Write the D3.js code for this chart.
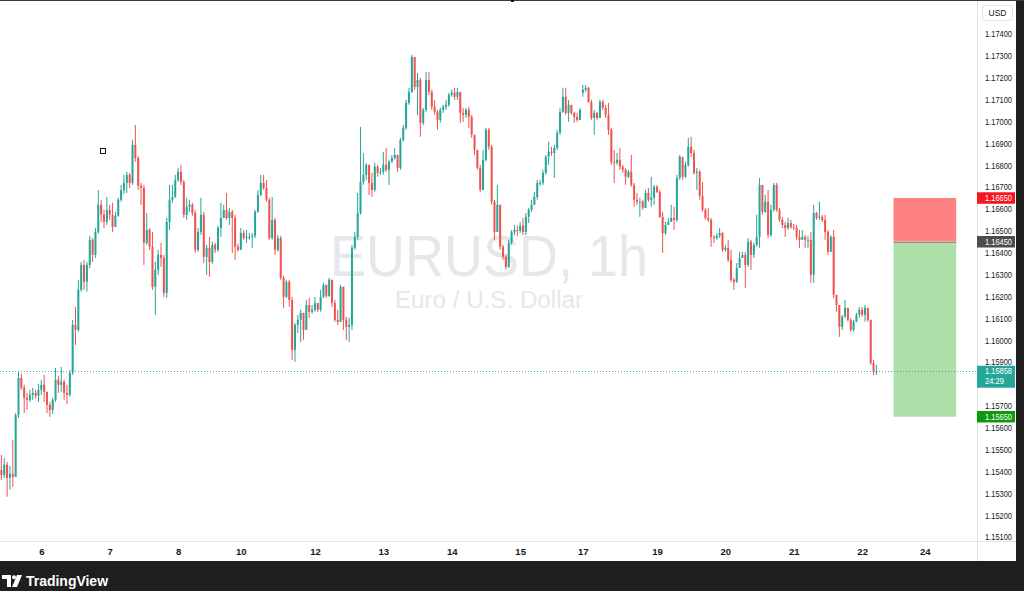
<!DOCTYPE html>
<html><head><meta charset="utf-8">
<script src="https://cdn.jsdelivr.net/npm/d3@7"></script>
<style>html,body{margin:0;padding:0;background:#fff;overflow:hidden}svg{display:block}</style>
</head><body><svg id="c" width="1024" height="591"></svg>
<script>
// ---------- DATA (EURUSD, 1h) ----------
const closes=[
1.15384,1.15430,1.15370,1.15389,1.15375,1.15658,1.15827,1.15782,1.15736,1.15727,
1.15750,1.15759,1.15746,1.15773,1.15796,1.15764,1.15704,1.15681,1.15727,1.15819,
1.15796,1.15810,1.15759,1.15750,1.15850,1.16070,1.16047,1.16230,1.16344,1.16267,
1.16344,1.16459,1.16390,1.16495,1.16619,1.16573,1.16541,1.16596,1.16573,1.16518,
1.16569,1.16642,1.16687,1.16719,1.16756,1.16719,1.16893,1.16833,1.16706,1.16696,
1.16445,1.16504,1.16427,1.16244,1.16322,1.16390,1.16376,1.16216,1.16541,1.16642,
1.16655,1.16733,1.16770,1.16724,1.16573,1.16610,1.16619,1.16582,1.16413,1.16495,
1.16573,1.16381,1.16422,1.16358,1.16436,1.16413,1.16513,1.16559,1.16596,1.16559,
1.16587,1.16559,1.16427,1.16413,1.16490,1.16467,1.16472,1.16472,1.16477,1.16587,
1.16664,1.16719,1.16696,1.16642,1.16467,1.16550,1.16413,1.16467,1.16285,1.16198,
1.16267,1.16184,1.15956,1.16070,1.16093,1.16125,1.16047,1.16161,1.16130,1.16139,
1.16170,1.16139,1.16198,1.16253,1.16203,1.16276,1.16170,1.16093,1.16084,1.16244,
1.16093,1.16061,1.16070,1.16422,1.16472,1.16582,1.16724,1.16756,1.16802,1.16719,
1.16687,1.16793,1.16765,1.16770,1.16802,1.16779,1.16816,1.16833,1.16847,1.16788,
1.16916,1.16971,1.17085,1.17135,1.17295,1.17158,1.17190,1.16994,1.17053,1.17190,
1.17135,1.17067,1.17044,1.17007,1.17053,1.17067,1.17076,1.17122,1.17131,1.17113,
1.17135,1.17039,1.17030,1.17053,1.17021,1.16939,1.16870,1.16788,1.16687,1.16825,
1.16962,1.16884,1.16633,1.16495,1.16619,1.16427,1.16381,1.16335,1.16445,1.16495,
1.16504,1.16500,1.16523,1.16495,1.16564,1.16596,1.16619,1.16655,1.16719,1.16719,
1.16765,1.16838,1.16861,1.16856,1.16879,1.16948,1.17044,1.17113,1.17039,1.17076,
1.17039,1.17021,1.17007,1.17053,1.17145,1.17154,1.17090,1.17016,1.17039,1.17016,
1.17090,1.17062,1.17030,1.16962,1.16816,1.16811,1.16825,1.16793,1.16779,1.16747,
1.16770,1.16710,1.16642,1.16633,1.16633,1.16605,1.16673,1.16642,1.16651,1.16701,
1.16678,1.16564,1.16490,1.16527,1.16541,1.16559,1.16550,1.16742,1.16838,1.16747,
1.16802,1.16884,1.16856,1.16765,1.16770,1.16660,1.16596,1.16559,1.16550,1.16472,
1.16467,1.16477,1.16490,1.16413,1.16422,1.16367,1.16276,1.16267,1.16330,1.16376,
1.16390,1.16344,1.16450,1.16390,1.16436,1.16472,1.16710,1.16587,1.16633,1.16481,
1.16596,1.16710,1.16596,1.16550,1.16527,1.16513,1.16536,1.16518,1.16513,1.16472,
1.16459,1.16472,1.16459,1.16459,1.16299,1.16582,1.16559,1.16564,1.16550,1.16495,
1.16404,1.16472,1.16207,1.16161,1.16061,1.16107,1.16148,1.16093,1.16047,1.16084,
1.16116,1.16139,1.16116,1.16148,1.16093,1.15896,1.15855,1.15858];
const highs=[
1.15476,1.15462,1.15444,1.15426,1.15544,1.15667,1.15855,1.15846,1.15796,1.15759,
1.15773,1.15782,1.15773,1.15801,1.15819,1.15841,1.15764,1.15718,1.15736,1.15873,
1.15837,1.15878,1.15819,1.15796,1.15864,1.16093,1.16152,1.16276,1.16358,1.16367,
1.16358,1.16477,1.16467,1.16513,1.16687,1.16642,1.16596,1.16655,1.16619,1.16628,
1.16587,1.16651,1.16710,1.16756,1.16770,1.16765,1.16916,1.16984,1.16843,1.16719,
1.16710,1.16582,1.16513,1.16495,1.16358,1.16413,1.16445,1.16390,1.16559,1.16710,
1.16710,1.16756,1.16788,1.16802,1.16733,1.16651,1.16642,1.16628,1.16596,1.16513,
1.16651,1.16587,1.16436,1.16472,1.16450,1.16445,1.16523,1.16628,1.16619,1.16673,
1.16605,1.16596,1.16573,1.16441,1.16513,1.16504,1.16504,1.16490,1.16490,1.16596,
1.16687,1.16756,1.16756,1.16733,1.16651,1.16655,1.16559,1.16481,1.16477,1.16294,
1.16276,1.16276,1.16198,1.16079,1.16116,1.16139,1.16125,1.16184,1.16193,1.16161,
1.16198,1.16170,1.16230,1.16262,1.16253,1.16285,1.16276,1.16184,1.16139,1.16253,
1.16230,1.16107,1.16102,1.16436,1.16495,1.16673,1.16975,1.16856,1.16811,1.16802,
1.16765,1.16811,1.16802,1.16788,1.16861,1.16879,1.16825,1.16847,1.16879,1.16847,
1.16925,1.16984,1.17099,1.17154,1.17305,1.17291,1.17222,1.17199,1.17062,1.17227,
1.17227,1.17145,1.17099,1.17053,1.17062,1.17076,1.17099,1.17131,1.17145,1.17154,
1.17154,1.17135,1.17062,1.17062,1.17067,1.17030,1.16939,1.16870,1.16802,1.16870,
1.16971,1.16971,1.16893,1.16642,1.16710,1.16619,1.16436,1.16390,1.16459,1.16504,
1.16527,1.16523,1.16541,1.16559,1.16582,1.16605,1.16642,1.16678,1.16733,1.16733,
1.16779,1.16847,1.16907,1.16884,1.16893,1.16962,1.17062,1.17154,1.17154,1.17099,
1.17076,1.17044,1.17039,1.17062,1.17167,1.17167,1.17158,1.17099,1.17053,1.17044,
1.17099,1.17099,1.17076,1.17085,1.16971,1.16870,1.16856,1.16879,1.16802,1.16788,
1.16779,1.16847,1.16719,1.16673,1.16651,1.16642,1.16687,1.16696,1.16747,1.16710,
1.16710,1.16687,1.16587,1.16541,1.16559,1.16619,1.16610,1.16756,1.16847,1.16838,
1.16816,1.16925,1.16930,1.16870,1.16788,1.16779,1.16724,1.16605,1.16605,1.16559,
1.16481,1.16490,1.16513,1.16495,1.16436,1.16459,1.16413,1.16285,1.16353,1.16404,
1.16404,1.16404,1.16467,1.16459,1.16445,1.16573,1.16742,1.16710,1.16664,1.16687,
1.16619,1.16719,1.16719,1.16605,1.16564,1.16541,1.16559,1.16550,1.16532,1.16527,
1.16504,1.16504,1.16481,1.16477,1.16495,1.16619,1.16587,1.16633,1.16573,1.16573,
1.16504,1.16481,1.16504,1.16207,1.16161,1.16116,1.16184,1.16148,1.16102,1.16093,
1.16125,1.16152,1.16152,1.16161,1.16148,1.16093,1.15910,1.15887];
const lows=[
1.15361,1.15370,1.15284,1.15316,1.15329,1.15384,1.15644,1.15773,1.15667,1.15681,
1.15718,1.15727,1.15732,1.15718,1.15750,1.15718,1.15667,1.15649,1.15663,1.15718,
1.15759,1.15764,1.15727,1.15709,1.15741,1.15841,1.15978,1.16038,1.16221,1.16230,
1.16221,1.16330,1.16358,1.16376,1.16486,1.16541,1.16513,1.16527,1.16550,1.16495,
1.16523,1.16564,1.16633,1.16669,1.16673,1.16696,1.16710,1.16816,1.16687,1.16619,
1.16344,1.16436,1.16413,1.16230,1.16116,1.16299,1.16335,1.16198,1.16193,1.16504,
1.16628,1.16651,1.16724,1.16710,1.16559,1.16550,1.16587,1.16569,1.16399,1.16404,
1.16481,1.16353,1.16299,1.16290,1.16349,1.16399,1.16404,1.16472,1.16559,1.16550,
1.16527,1.16399,1.16367,1.16404,1.16450,1.16459,1.16445,1.16459,1.16422,1.16467,
1.16582,1.16660,1.16687,1.16633,1.16459,1.16459,1.16390,1.16404,1.16276,1.16148,
1.16193,1.16152,1.15910,1.15901,1.16033,1.15992,1.16001,1.16047,1.16102,1.16121,
1.16130,1.16130,1.16130,1.16193,1.16193,1.16198,1.16152,1.16084,1.16070,1.16084,
1.16047,1.16001,1.15992,1.16047,1.16413,1.16459,1.16573,1.16710,1.16733,1.16664,
1.16655,1.16678,1.16747,1.16756,1.16756,1.16770,1.16710,1.16811,1.16825,1.16770,
1.16779,1.16907,1.16962,1.17076,1.17131,1.17145,1.17030,1.16930,1.16984,1.17044,
1.17122,1.17053,1.17030,1.16962,1.16994,1.17039,1.17053,1.17067,1.17113,1.17099,
1.17099,1.16994,1.16998,1.17016,1.16971,1.16925,1.16847,1.16779,1.16678,1.16687,
1.16816,1.16870,1.16619,1.16459,1.16495,1.16413,1.16367,1.16322,1.16330,1.16436,
1.16481,1.16477,1.16490,1.16481,1.16481,1.16536,1.16587,1.16619,1.16642,1.16706,
1.16710,1.16756,1.16802,1.16843,1.16742,1.16870,1.16939,1.17039,1.17030,1.16998,
1.17030,1.16994,1.16998,1.17007,1.17113,1.17135,1.17085,1.17007,1.16939,1.17007,
1.17016,1.17053,1.17016,1.16939,1.16802,1.16719,1.16802,1.16779,1.16765,1.16710,
1.16742,1.16701,1.16610,1.16619,1.16564,1.16596,1.16605,1.16633,1.16610,1.16619,
1.16673,1.16559,1.16399,1.16481,1.16527,1.16541,1.16504,1.16541,1.16733,1.16733,
1.16742,1.16793,1.16838,1.16756,1.16687,1.16642,1.16587,1.16550,1.16541,1.16427,
1.16445,1.16459,1.16467,1.16404,1.16404,1.16358,1.16267,1.16230,1.16262,1.16330,
1.16376,1.16239,1.16335,1.16322,1.16376,1.16427,1.16422,1.16573,1.16582,1.16467,
1.16472,1.16587,1.16587,1.16541,1.16513,1.16472,1.16504,1.16509,1.16504,1.16459,
1.16422,1.16459,1.16422,1.16422,1.16262,1.16262,1.16550,1.16550,1.16541,1.16459,
1.16390,1.16404,1.16193,1.16130,1.16015,1.16047,1.16102,1.16084,1.16038,1.16038,
1.16084,1.16102,1.16107,1.16084,1.16084,1.15887,1.15841,1.15841];
const firstOpen=1.15407;
const gapOpens={204:1.17131};   // weekend gap (Sunday open)
const timeTickIndex=[14,38,62,84,110,134,158,182,204,230,254,278,302,324];
const timeTickLabels=["6","7","8","10","12","13","14","15","17","19","20","21","22","24"];
const priceTicks=[1.174,1.173,1.172,1.171,1.170,1.169,1.168,1.167,1.166,1.165,1.164,1.163,1.162,1.161,1.160,1.159,1.158,1.157,1.156,1.155,1.154,1.153,1.152,1.151];
const lastPrice=1.15858, countdown="24:29";
const positionLevels={stop:1.16650, entry:1.16450, target:1.15650};
const positionBars=[313,335];
const markerPoint={bar:35.5,price:1.16866};
const symbolTitle="EURUSD, 1h", symbolDesc="Euro / U.S. Dollar", currency="USD";

// ---------- LAYOUT ----------
const W=1024,H=591, paneR=977, axisR=1016, paneB=541, footT=561;
const UP="#26a69a", DN="#ef5350";
const font="'Liberation Sans',Arial,sans-serif";
const svg=d3.select("#c");
const bars=closes.map((c,i)=>{
  const o = gapOpens[i]!==undefined ? gapOpens[i] : (i===0?firstOpen:closes[i-1]);
  return {i,o,c,h:Math.max(highs[i],o,c),l:Math.min(lows[i],o,c)};
});
const x=d3.scaleLinear().domain([0,307]).range([1.4,876.4]);
const y=d3.scaleLinear().domain([1.151,1.174]).range([537,34]);

// price-axis label boxes (computed first so covered ticks can be hidden)
const fmt=d3.format(".5f");
const labels=[
  {price:positionLevels.stop,bg:"#f7151f",lines:[fmt(positionLevels.stop)]},
  {price:positionLevels.entry,bg:"#4d4d4d",lines:[fmt(positionLevels.entry)]},
  {price:lastPrice,bg:"#26a69a",lines:[fmt(lastPrice),countdown]},
  {price:positionLevels.target,bg:"#0c9a0c",lines:[fmt(positionLevels.target)]}
];
labels.forEach(l=>{const cy=y(l.price); l.h=l.lines.length>1?22:11.5; l.top=l.lines.length>1?cy-5.5:cy-l.h/2;});
const visibleTicks=priceTicks.filter(p=>{const ty=y(p);return !labels.some(l=>ty>l.top-3&&ty<l.top+l.h+3);});

svg.append("rect").attr("width",W).attr("height",H).attr("fill","#fff");
svg.append("defs").append("clipPath").attr("id","pane").append("rect").attr("x",0).attr("y",0).attr("width",paneR).attr("height",paneB);

// watermark
const wm=svg.append("g").attr("fill","#e6e7eb").style("font-family",font);
wm.append("text").attr("x",489).attr("y",276).attr("text-anchor","middle").attr("font-size",58)
  .attr("textLength",318).attr("lengthAdjust","spacingAndGlyphs").text(symbolTitle);
wm.append("text").attr("x",489).attr("y",308).attr("text-anchor","middle").attr("font-size",23)
  .attr("textLength",188).attr("lengthAdjust","spacingAndGlyphs").text(symbolDesc);

const pane=svg.append("g").attr("clip-path","url(#pane)");

// position tool (short)
const px0=x(positionBars[0]), px1=x(positionBars[1]);
pane.append("rect").attr("x",px0).attr("width",px1-px0).attr("y",y(positionLevels.stop)).attr("height",y(positionLevels.entry)-y(positionLevels.stop)).attr("fill","#ff8282");
pane.append("rect").attr("x",px0).attr("width",px1-px0).attr("y",y(positionLevels.entry)).attr("height",y(positionLevels.target)-y(positionLevels.entry)).attr("fill","#addfa9");
pane.append("line").attr("x1",px0).attr("x2",px1).attr("y1",Math.round(y(positionLevels.entry))+0.5).attr("y2",Math.round(y(positionLevels.entry))+0.5).attr("stroke","#8c8c8c").attr("stroke-width",1);

// last price dotted line
pane.append("line").attr("x1",0).attr("x2",paneR).attr("y1",Math.round(y(lastPrice))+0.5).attr("y2",Math.round(y(lastPrice))+0.5)
  .attr("stroke","#3fb5aa").attr("stroke-width",1).attr("stroke-dasharray","1,2");

// candles
const cg=pane.append("g");
cg.selectAll("rect.w").data(bars).join("rect").attr("class","w")
  .attr("x",d=>x(d.i)-0.5).attr("width",1).attr("y",d=>y(d.h)).attr("height",d=>Math.max(1,y(d.l)-y(d.h)))
  .attr("fill",d=>d.c>=d.o?UP:DN);
cg.selectAll("rect.b").data(bars).join("rect").attr("class","b")
  .attr("x",d=>x(d.i)-1).attr("width",2).attr("y",d=>y(Math.max(d.o,d.c))).attr("height",d=>Math.max(1,Math.abs(y(d.o)-y(d.c))))
  .attr("fill",d=>d.c>=d.o?UP:DN);

// marker square
pane.append("rect").attr("x",Math.round(x(markerPoint.bar))-2.5).attr("y",Math.round(y(markerPoint.price))-2.5).attr("width",5).attr("height",5)
  .attr("fill","#fff").attr("stroke","#131722").attr("stroke-width",1);

// borders
svg.append("line").attr("x1",paneR+0.5).attr("x2",paneR+0.5).attr("y1",0).attr("y2",footT).attr("stroke","#e0e3eb");
svg.append("line").attr("x1",0).attr("x2",axisR).attr("y1",paneB+0.5).attr("y2",paneB+0.5).attr("stroke","#e0e3eb");

// price axis
const pa=svg.append("g").attr("transform",`translate(${paneR},0)`).call(d3.axisRight(y).tickValues(visibleTicks).tickFormat(fmt).tickSize(0));
pa.select(".domain").remove();
pa.selectAll("text").attr("x",8).attr("fill","#131722").style("font-family",font).style("font-size","9px")
  .attr("textLength",27).attr("lengthAdjust","spacingAndGlyphs");

// time axis
const ta=svg.append("g").attr("transform",`translate(0,${paneB})`).call(d3.axisBottom(x).tickValues(timeTickIndex).tickFormat((d,i)=>timeTickLabels[i]).tickSize(0));
ta.select(".domain").remove();
ta.selectAll("text").attr("y",7).attr("fill","#131722").style("font-family",font).style("font-size","9.5px").style("font-weight","bold");

// currency box
svg.append("rect").attr("x",982.5).attr("y",5.5).attr("width",30).attr("height",15).attr("rx",2).attr("fill","#fff").attr("stroke","#e0e3eb");
svg.append("text").attr("x",997.5).attr("y",16).attr("text-anchor","middle").attr("fill","#131722").style("font-family",font).style("font-size","8.5px").text(currency);

// axis label boxes
labels.forEach(l=>{
  svg.append("rect").attr("x",paneR).attr("y",l.top).attr("width",axisR-paneR-1).attr("height",l.h).attr("fill",l.bg);
  l.lines.forEach((t,k)=>{
    svg.append("text").attr("x",paneR+8).attr("y",l.top+8.6+k*10).attr("fill","#fff").style("font-family",font).style("font-size","8.5px")
      .attr("textLength",t.length>5?27:19).attr("lengthAdjust","spacingAndGlyphs").text(t);
  });
});

// frame / footer
svg.append("rect").attr("x",axisR).attr("y",0).attr("width",W-axisR).attr("height",H).attr("fill","#1e1e1e");
svg.append("rect").attr("x",0).attr("y",footT).attr("width",W).attr("height",H-footT).attr("fill","#1e1e1e");
svg.append("rect").attr("x",0).attr("y",0).attr("width",W).attr("height",1).attr("fill","#3a3a3a");
svg.append("rect").attr("x",511).attr("y",0).attr("width",3).attr("height",2).attr("fill","#111");

// TradingView logo
const lg=svg.append("g").attr("fill","#fff");
lg.append("path").attr("d","M2,575 H11 V587 H7 V579 H2 Z");
lg.append("circle").attr("cx",14).attr("cy",577.2).attr("r",2);
lg.append("path").attr("d","M17,575 H22 L17,587 H12 Z");
lg.append("text").attr("x",26).attr("y",586).attr("textLength",82).attr("lengthAdjust","spacingAndGlyphs")
  .style("font-family",font).style("font-size","14px").style("font-weight","bold").text("TradingView");
</script></body></html>
